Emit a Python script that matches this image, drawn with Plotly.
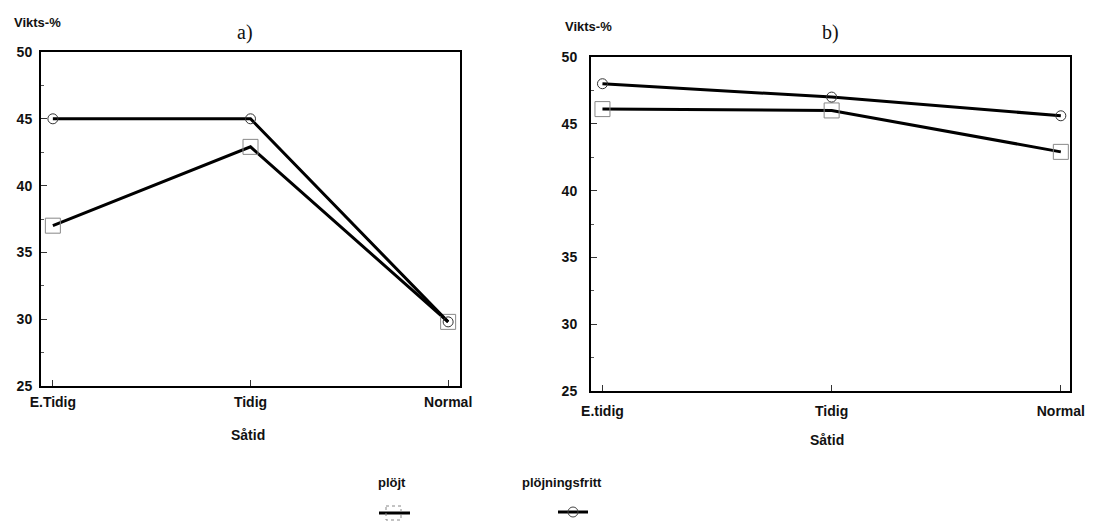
import plotly.graph_objects as go

categories_a = ["E.Tidig", "Tidig", "Normal"]
categories_b = ["E.tidig", "Tidig", "Normal"]
plojt_a = [37.0, 42.9, 29.8]
plojningsfritt_a = [45.0, 45.0, 29.8]
plojt_b = [46.1, 46.0, 42.9]
plojningsfritt_b = [48.0, 47.0, 45.6]
series_names = ["plöjt", "plöjningsfritt"]
x_title = "Såtid"
y_title = "Vikts-%"
y_ticks = [25, 30, 35, 40, 45, 50]

W, H = 1114, 522
FONT = "Liberation Sans, Arial, sans-serif"

def px(x):
    return x / W

def py(y):
    return 1 - y / H

fig = go.Figure()

sq_marker = dict(symbol="square-open", size=15, color="#888", line=dict(width=1, color="#888"))
ci_marker = dict(symbol="circle-open", size=10, color="#333", line=dict(width=1, color="#333"))
line_style = dict(color="black", width=3)

fig.add_trace(go.Scatter(x=categories_a, y=plojt_a, mode="lines+markers", name=series_names[0],
                         line=line_style, marker=sq_marker, xaxis="x", yaxis="y", showlegend=False))
fig.add_trace(go.Scatter(x=categories_a, y=plojningsfritt_a, mode="lines+markers", name=series_names[1],
                         line=line_style, marker=ci_marker, xaxis="x", yaxis="y", showlegend=False))
fig.add_trace(go.Scatter(x=categories_b, y=plojt_b, mode="lines+markers", name=series_names[0],
                         line=line_style, marker=sq_marker, xaxis="x2", yaxis="y2", showlegend=False))
fig.add_trace(go.Scatter(x=categories_b, y=plojningsfritt_b, mode="lines+markers", name=series_names[1],
                         line=line_style, marker=ci_marker, xaxis="x2", yaxis="y2", showlegend=False))

tickfont = dict(family=FONT, size=14, color="#111", weight="bold")
xcommon = dict(showline=True, linewidth=2, linecolor="black", mirror=True, ticks="inside",
               ticklen=6, tickcolor="#333", showgrid=False, zeroline=False, automargin=False,
               tickfont=tickfont)
ycommon = dict(showline=True, linewidth=2, linecolor="black", mirror=True, ticks="inside",
               ticklen=6, tickcolor="#333", showgrid=False, zeroline=False, range=[25, 50],
               automargin=False, tickvals=y_ticks, tickfont=tickfont,
               minor=dict(dtick=2.5, ticks="inside", ticklen=3, tickcolor="#555"))

fig.update_layout(
    width=W, height=H,
    margin=dict(l=0, r=0, t=0, b=0),
    paper_bgcolor="white", plot_bgcolor="white",
    xaxis=dict(domain=[px(41), px(460)], anchor="y", range=[-0.06, 2.06], ticklabelstandoff=2, **xcommon),
    yaxis=dict(domain=[py(386), py(52)], anchor="x", ticklabelstandoff=4, **ycommon),
    xaxis2=dict(domain=[px(591), px(1070)], anchor="y2", range=[-0.05, 2.04], ticklabelstandoff=6, **xcommon),
    yaxis2=dict(domain=[py(391), py(57)], anchor="x2", ticklabelstandoff=9, **ycommon),
    showlegend=False,
)

def txt(text, x, y, size=12, family=FONT, anchor="center", bold=True):
    f = dict(family=family, size=size, color="#111")
    if bold:
        f["weight"] = "bold"
    return dict(text=text, x=px(x), y=py(y), xref="paper", yref="paper", xanchor=anchor,
                yanchor="middle", showarrow=False, font=f)

SERIF = "Liberation Serif, Times New Roman, serif"
ann = [
    txt(y_title, 12, 22, 13, anchor="left"),
    txt(y_title, 563, 27, 13, anchor="left"),
    txt("a)", 245, 33, 20, SERIF, bold=False),
    txt("b)", 830, 33, 20, SERIF, bold=False),
    txt(x_title, 248, 435, 14),
    txt(x_title, 827, 440, 14),
    txt(series_names[0], 392, 482, 13),
    txt(series_names[1], 562, 482, 13),
]
fig.update_layout(annotations=ann)

shapes = []
# legend glyphs
shapes.append(dict(type="line", xref="paper", yref="paper", x0=px(379), x1=px(410), y0=py(513), y1=py(513),
                   line=dict(color="black", width=3)))
shapes.append(dict(type="rect", xref="paper", yref="paper", x0=px(386), x1=px(401), y0=py(506), y1=py(520),
                   line=dict(color="#888", width=1, dash="dot")))
shapes.append(dict(type="line", xref="paper", yref="paper", x0=px(558), x1=px(588), y0=py(512), y1=py(512),
                   line=dict(color="black", width=3)))
shapes.append(dict(type="circle", xref="paper", yref="paper", x0=px(568), x1=px(578), y0=py(507), y1=py(517),
                   line=dict(color="#444", width=1)))
fig.update_layout(shapes=shapes)

fig.write_html("out.html")
